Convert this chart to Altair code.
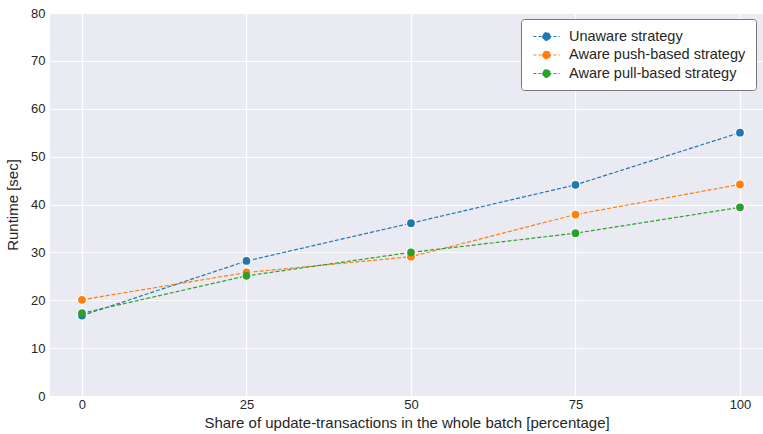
import altair as alt
import pandas as pd

# Share of update-transactions (%) and runtimes (sec) per strategy
shares = [0, 25, 50, 75, 100]
unaware = [16.8, 28.2, 36.1, 44.1, 55.0]
aware_push = [20.1, 25.8, 29.1, 37.9, 44.2]
aware_pull = [17.3, 25.1, 30.0, 34.0, 39.4]

strategies = ["Unaware strategy", "Aware push-based strategy", "Aware pull-based strategy"]
colors = ["#1f77b4", "#ff7f0e", "#2ca02c"]

rows = []
for name, vals in zip(strategies, [unaware, aware_push, aware_pull]):
    for s, v in zip(shares, vals):
        rows.append({"share": s, "runtime": v, "strategy": name})
df = pd.DataFrame(rows)

font = "Liberation Sans"

x = alt.X("share:Q",
          scale=alt.Scale(domain=[-4.86, 103.5], nice=False, zero=False),
          axis=alt.Axis(values=shares, title="Share of update-transactions in the whole batch [percentage]"))
y = alt.Y("runtime:Q",
          scale=alt.Scale(domain=[0, 80], nice=False),
          axis=alt.Axis(values=[0, 10, 20, 30, 40, 50, 60, 70, 80], title="Runtime [sec]"))

# dashed segment with a dot in the middle, as the legend marker
legend = alt.Legend(
    title=None, orient="none", legendX=471, legendY=6,
    fillColor="white", strokeColor="#777777", cornerRadius=3, padding=10,
    labelFont=font, labelFontSize=14.5, labelColor="#262626", labelLimit=400,
    symbolType="M-1.86,0L1.86,0M0.57,0A0.57,0.57,0,1,1,-0.57,0A0.57,0.57,0,1,1,0.57,0",
    symbolSize=196, symbolStrokeWidth=1, symbolDash=[3, 2],
    rowPadding=3.5, symbolOffset=8, labelOffset=15,
)
color = alt.Color("strategy:N",
                  scale=alt.Scale(domain=strategies, range=colors),
                  sort=strategies, legend=legend)

base = alt.Chart(df)
lines = base.mark_line(strokeDash=[4, 2], strokeWidth=1.2).encode(x=x, y=y, color=color)
halo = base.mark_point(filled=True, size=100, color="white", opacity=1).encode(x=x, y=y)
dots = base.mark_point(filled=True, size=60, opacity=1).encode(x=x, y=y, color=color)

chart = alt.layer(lines, halo, dots).properties(
    width=713, height=383,
    autosize=alt.AutoSizeParams(type="none"),
    padding={"left": 50, "top": 13, "right": 0, "bottom": 38},
    background="white",
).configure_view(
    fill="#EAEAF2", stroke=None,
).configure_axis(
    grid=True, gridColor="white", gridWidth=1.2,
    domain=False, ticks=False,
    labelFont=font, labelFontSize=13, labelColor="#262626",
    titleFont=font, titleFontSize=15, titleColor="#262626", titleFontWeight="normal",
).configure_axisY(titlePadding=10, labelPadding=5).configure_axisX(titlePadding=4, labelPadding=2)

chart.save("out.html", embed_options={"renderer": "svg", "actions": False})
